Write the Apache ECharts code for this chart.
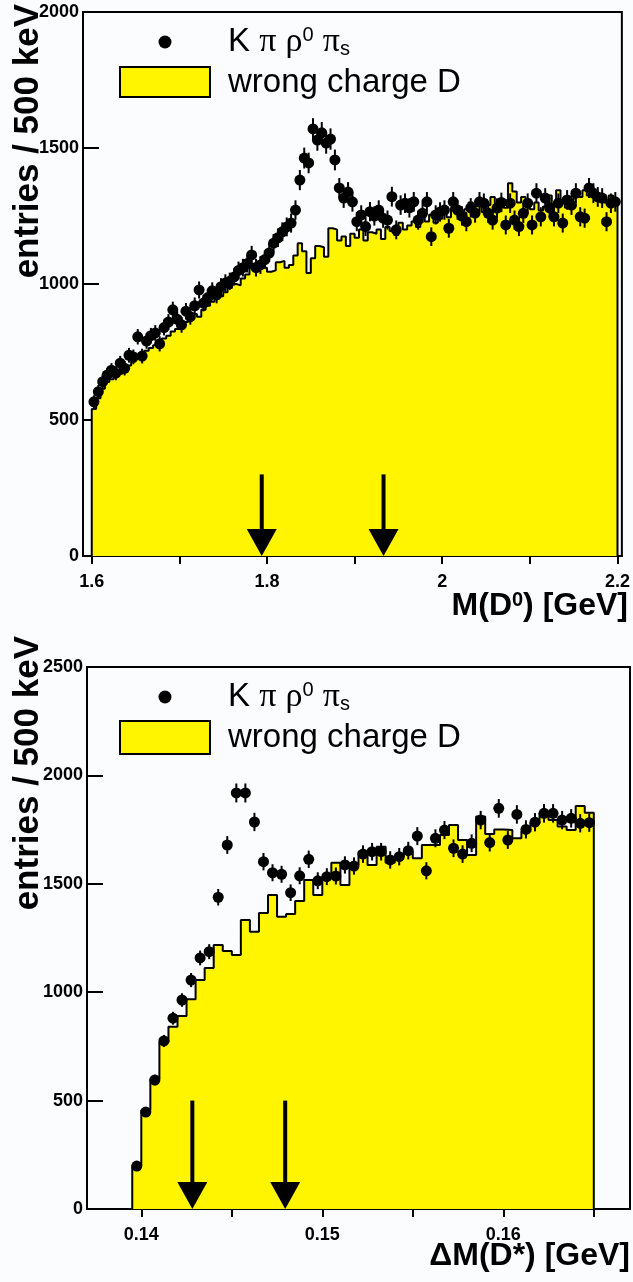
<!DOCTYPE html>
<html><head><meta charset="utf-8">
<script src="https://cdn.jsdelivr.net/npm/echarts@6/dist/echarts.min.js"></script>
<style>html,body{margin:0;padding:0;background:#fafcfd}#c{width:633px;height:1282px}</style>
</head><body><div id="c"></div>
<script>
// ---------- top panel: M(D0), bins of 5 MeV from 1.600 to 2.200 ----------
const topBinStart = 1.6;
const topBinWidth = 0.005;
const topData = [567,604,641,665,683,672,709,690,738,732,806,735,790,810,820,780,840,860,905,870,
  850,900,880,920,978,930,950,975,960,990,1004,1010,1026,1050,1060,1075,1107,1060,1070,1090,
  1114,1150,1170,1192,1210,1224,1272,1382,1463,1445,1570,1529,1556,1518,1533,1456,1353,1316,1338,1302,
  1229,1254,1211,1266,1250,1272,1242,1235,1321,1199,1290,1297,1280,1302,1235,1260,1302,1174,1254,1265,
  1272,1205,1302,1272,1250,1229,1280,1261,1302,1297,1260,1235,1279,1300,1217,1297,1235,1211,1260,1297,
  1217,1334,1247,1316,1280,1247,1297,1224,1309,1290,1334,1247,1242,1353,1334,1320,1316,1229,1297,1302];
const topBkg = [540,580,615,640,650,660,670,680,700,715,730,740,755,765,775,790,800,810,825,835,
  845,860,870,890,880,905,920,935,945,955,970,985,1000,995,1020,1035,1060,1075,1070,1060,
  1045,1050,1080,1085,1060,1070,1105,1150,1120,1040,1095,1140,1135,1100,1205,1200,1160,1175,1140,1185,
  1170,1200,1160,1190,1185,1200,1165,1210,1195,1180,1225,1200,1215,1230,1210,1245,1230,1255,1225,1240,
  1260,1245,1280,1265,1250,1275,1300,1285,1310,1265,1290,1320,1295,1305,1280,1370,1340,1300,1320,1290,
  1275,1300,1270,1285,1325,1290,1345,1300,1280,1310,1330,1320,1345,1325,1335,1310,1320,1300,1325,1310];
const topXTicks = [1.6,1.7,1.8,1.9,2.0,2.1,2.2];
const topXLabels = [1.6,1.8,2.0,2.2];
const topYTicks = [0,500,1000,1500,2000];
const topArrowX = [1.794,1.933];
const topArrowFrom = 300;

// ---------- bottom panel: dM(D*), bins of 0.5 MeV from 0.1395 to 0.165 ----------
const botBinStart = 0.1395;
const botBinWidth = 0.0005;
const botData = [198,447,595,775,880,964,1056,1158,1187,1438,1679,1919,1919,1785,1602,1551,1544,1459,1537,1613,
  1514,1533,1536,1587,1582,1637,1648,1648,1610,1625,1653,1720,1560,1710,1748,1664,1637,1687,1794,1690,
  1848,1702,1820,1751,1784,1825,1825,1794,1802,1779,1782];
const botBkg = [200,455,600,770,841,890,968,1056,1112,1218,1190,1172,1333,1279,1365,1448,1348,1361,1421,1518,
  1448,1533,1597,1494,1587,1648,1587,1671,1597,1625,1648,1618,1679,1679,1725,1771,1702,1633,1810,1730,
  1751,1748,1710,1741,1779,1825,1794,1764,1748,1859,1828];
const botXTicks = [0.14,0.145,0.15,0.155,0.16,0.165];
const botXLabels = [0.14,0.15,0.16];
const botYTicks = [0,500,1000,1500,2000,2500];
const botArrowX = [0.14282,0.14795];
const botArrowFrom = 500;

// ---------- styling ----------
const YELLOW = '#fff500';
const FONT = 'Liberation Sans, Arial, Helvetica, sans-serif';

function stepData(start, w, vals) {
  const d = [[start, 0]];
  vals.forEach((v, i) => d.push([start + i * w, v]));
  d.push([start + vals.length * w, vals[vals.length - 1]]);
  d.push([start + vals.length * w, 0]);
  return d;
}
function pointData(start, w, vals) {
  return vals.map((v, i) => [start + (i + 0.5) * w, v]);
}
function errRender(params, api) {
  const x = api.value(0), y = api.value(1), e = Math.sqrt(y); // Poisson error
  const a = api.coord([x, y + e]), b = api.coord([x, y - e]);
  return { type: 'line', shape: { x1: a[0], y1: a[1], x2: b[0], y2: b[1] },
           style: { stroke: '#000', lineWidth: 2 } };
}
function arrowRender(params, api) {
  const x = api.value(0), y = api.value(1);
  const a = api.coord([x, y]), b = api.coord([x, 0]);
  const hw = 15, hh = 27;
  return { type: 'group', children: [
    { type: 'line', shape: { x1: a[0], y1: a[1], x2: b[0], y2: b[1] - hh + 2 }, style: { stroke: '#000', lineWidth: 4 } },
    { type: 'polygon', shape: { points: [[b[0] - hw, b[1] - hh], [b[0] + hw, b[1] - hh], [b[0], b[1]]] }, style: { fill: '#000' } }
  ]};
}
function xAxisCfg(idx, min, max, ticks, labels) {
  return {
    type: 'value', gridIndex: idx, min: min, max: max,
    axisLine: { show: true, onZero: false, lineStyle: { color: '#000', width: 2 } },
    axisTick: { show: true, inside: false, length: 8, customValues: ticks, lineStyle: { color: '#000', width: 2 } },
    axisLabel: { customValues: labels, formatter: v => String(+(+v).toFixed(4)), color: '#000', fontWeight: 'bold',
                 fontSize: 18, fontFamily: FONT, margin: 17 },
    splitLine: { show: false }
  };
}
function yAxisCfg(idx, max, ticks) {
  return {
    type: 'value', gridIndex: idx, min: 0, max: max, interval: 500,
    axisLine: { show: true, lineStyle: { color: '#000', width: 2 } },
    axisTick: { show: true, inside: true, length: 16, lineStyle: { color: '#000', width: 2 } },
    axisLabel: { customValues: ticks, formatter: v => String(Math.round(v)), color: '#000', fontWeight: 'bold',
                 fontSize: 18, fontFamily: FONT, margin: 4 },
    splitLine: { show: false }
  };
}
function histSeries(idx, start, w, vals) {
  return { type: 'line', xAxisIndex: idx, yAxisIndex: idx, step: 'end', symbol: 'none', silent: true,
           data: stepData(start, w, vals), lineStyle: { color: '#000', width: 2 },
           areaStyle: { color: YELLOW, opacity: 1 }, z: 2 };
}
function errSeries(idx, start, w, vals) {
  return { type: 'custom', xAxisIndex: idx, yAxisIndex: idx, renderItem: errRender,
           data: pointData(start, w, vals), z: 4, silent: true };
}
function dotSeries(idx, start, w, vals) {
  return { type: 'scatter', xAxisIndex: idx, yAxisIndex: idx, symbol: 'circle', symbolSize: 11,
           itemStyle: { color: '#000', opacity: 1 }, data: pointData(start, w, vals), z: 5, silent: true };
}
function arrowSeries(idx, xs, from) {
  return { type: 'custom', xAxisIndex: idx, yAxisIndex: idx, renderItem: arrowRender,
           data: xs.map(x => [x, from]), z: 6, silent: true };
}
const legendRich = {
  g: { fontFamily: 'Liberation Serif, DejaVu Serif, serif', fontSize: 34, fill: '#000' },
  sup: { fontSize: 20, verticalAlign: 'top', fontFamily: FONT, fill: '#000' },
  sub: { fontSize: 20, verticalAlign: 'bottom', fontFamily: FONT, fill: '#000' }
};
const sigText = 'K {g|π} {g|ρ}{sup|0} {g|π}{sub|s}';
function legendGraphics(dotY, boxY, boxH, text1Y, text2Y) {
  return [
    { type: 'circle', shape: { cx: 165, cy: dotY, r: 6.5 }, style: { fill: '#000' }, z: 10 },
    { type: 'rect', shape: { x: 120, y: boxY, width: 90, height: boxH }, style: { fill: YELLOW, stroke: '#000', lineWidth: 2 }, z: 10 },
    { type: 'text', x: 228, y: text1Y, z: 10, style: { text: sigText, font: '33px ' + FONT, fill: '#000',
      verticalAlign: 'middle', align: 'left', rich: legendRich } },
    { type: 'text', x: 228, y: text2Y, z: 10, style: { text: 'wrong charge D', font: '33px ' + FONT, fill: '#000',
      verticalAlign: 'middle', align: 'left' } }
  ];
}
const titleRich = { sup: { fontSize: 20, fontWeight: 'bold', verticalAlign: 'top', fontFamily: FONT, fill: '#000' } };

const chart = echarts.init(document.getElementById('c'), null, { renderer: 'canvas' });
chart.setOption({
  backgroundColor: '#fafcfd',
  animation: false,
  grid: [
    { left: 83, top: 12, width: 541, height: 544, show: true, borderColor: '#000', borderWidth: 2, backgroundColor: 'transparent' },
    { left: 87, top: 667, width: 543, height: 542, show: true, borderColor: '#000', borderWidth: 2, backgroundColor: 'transparent' }
  ],
  xAxis: [
    xAxisCfg(0, 1.59, 2.205, topXTicks, topXLabels),
    xAxisCfg(1, 0.137, 0.167, botXTicks, botXLabels)
  ],
  yAxis: [
    yAxisCfg(0, 2000, topYTicks),
    yAxisCfg(1, 2500, botYTicks)
  ],
  series: [
    histSeries(0, topBinStart, topBinWidth, topBkg),
    errSeries(0, topBinStart, topBinWidth, topData),
    dotSeries(0, topBinStart, topBinWidth, topData),
    arrowSeries(0, topArrowX, topArrowFrom),
    histSeries(1, botBinStart, botBinWidth, botBkg),
    errSeries(1, botBinStart, botBinWidth, botData),
    dotSeries(1, botBinStart, botBinWidth, botData),
    arrowSeries(1, botArrowX, botArrowFrom)
  ],
  graphic: [].concat(
    legendGraphics(42, 67, 30, 42, 83),
    legendGraphics(697, 721, 33, 697, 738),
    [
      { type: 'text', x: 628, y: 606, z: 10, style: { text: 'M(D{sup|0}) [GeV]', font: 'bold 32px ' + FONT, fill: '#000',
        align: 'right', verticalAlign: 'middle', rich: titleRich } },
      { type: 'text', x: 630, y: 1256, z: 10, style: { text: 'ΔM(D*) [GeV]', font: 'bold 32px ' + FONT, fill: '#000',
        align: 'right', verticalAlign: 'middle' } },
      { type: 'text', x: 28, y: 4, rotation: Math.PI / 2, z: 10, style: { text: 'entries / 500 keV', font: 'bold 35px ' + FONT,
        fill: '#000', align: 'right', verticalAlign: 'middle' } },
      { type: 'text', x: 28, y: 636, rotation: Math.PI / 2, z: 10, style: { text: 'entries / 500 keV', font: 'bold 35px ' + FONT,
        fill: '#000', align: 'right', verticalAlign: 'middle' } }
    ]
  )
});
</script></body></html>
